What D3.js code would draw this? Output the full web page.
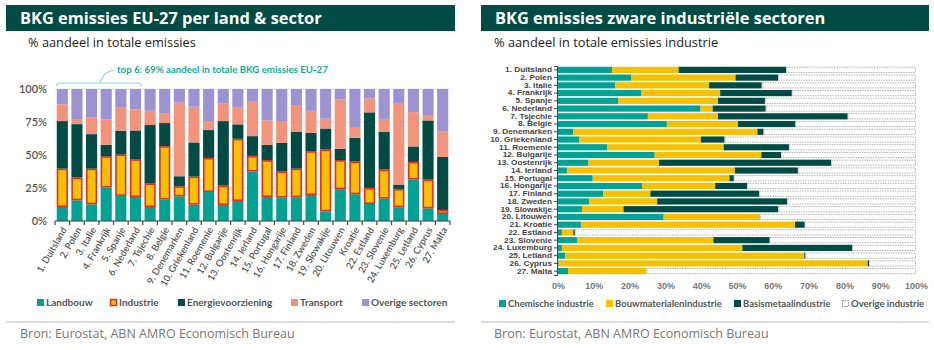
<!DOCTYPE html>
<html>
<head>
<meta charset="utf-8">
<script src="https://cdn.jsdelivr.net/npm/d3@7"></script>
<style>
  body { margin: 0; background: #fff; }
  svg { display: block; font-family: "Lato", "Open Sans", sans-serif; }
</style>
</head>
<body>
<div id="chart"></div>
<script>
// data links: aandeel per sector (%)
var landen = ["1. Duitsland", "2. Polen", "3. Italie", "4. Frankrijk", "5. Spanje", "6. Nederland", "7. Tsjechie", "8. Belgie", "9. Denemarken", "10. Griekenland", "11. Roemenie", "12. Bulgarije", "13. Oostenrijk", "14. Ierland", "15. Portugal", "16. Hongarije", "17. Finland", "18. Zweden", "19. Slowakije", "20. Litouwen", "Kroatie", "22. Estland", "23. Slovenie", "24. Luxemburg", "25. Letland", "26. Cyprus", "27. Malta"];
var landbouw = [10.6, 15.7, 12.7, 25.3, 19.0, 18.2, 10.6, 16.2, 18.7, 12.4, 22.0, 12.2, 15.2, 37.5, 18.2, 17.7, 18.0, 19.7, 7.3, 24.1, 20.3, 12.9, 17.0, 10.4, 31.4, 9.6, 5.3];
var industrie = [29.1, 17.2, 27.0, 23.8, 31.4, 28.6, 17.8, 40.5, 7.6, 21.3, 25.8, 14.6, 47.1, 11.9, 27.9, 19.8, 21.7, 33.2, 46.9, 22.0, 24.8, 12.2, 22.0, 13.9, 13.4, 21.8, 3.1];
var energie = [36.0, 40.5, 26.1, 8.6, 18.0, 21.8, 44.3, 17.5, 7.6, 25.8, 21.1, 48.9, 10.9, 14.9, 11.6, 21.7, 27.9, 13.9, 15.9, 8.6, 17.9, 57.2, 28.6, 3.3, 11.7, 44.8, 40.2];
var transport = [12.7, 3.8, 12.9, 19.3, 17.9, 16.0, 10.8, 7.6, 55.7, 27.1, 6.8, 13.2, 12.6, 26.6, 18.5, 16.5, 19.7, 16.7, 7.4, 37.5, 7.6, 10.6, 9.1, 61.8, 26.0, 4.1, 19.5];
var overig = [11.6, 22.8, 21.3, 23.0, 13.7, 15.4, 16.5, 18.2, 10.4, 13.4, 24.3, 11.1, 14.2, 9.1, 23.8, 24.3, 12.7, 16.5, 22.5, 7.8, 29.4, 7.1, 23.3, 10.6, 17.5, 19.7, 31.9];

// data rechts: aandeel per industriële sector (%)
var landenInd = ["1. Duitsland", "2. Polen", "3. Italie", "4. Frankrijk", "5. Spanje", "6. Nederland", "7. Tsjechie", "8. Belgie", "9. Denemarken", "10. Griekenland", "11. Roemenie", "12. Bulgarije", "13. Oostenrijk", "14. Ierland", "15. Portugal", "16. Hongarije", "17. Finland", "18. Zweden", "19. Slowakije", "20. Litouwen", "21. Kroatie", "22. Estland", "23. Slovenie", "24. Luxemburg", "25. Letland", "26. Cyprus", "27. Malta"];
var chemie = [15.1, 20.4, 16.0, 23.3, 16.9, 39.8, 25.1, 30.4, 4.2, 6.0, 13.8, 27.0, 8.5, 2.5, 9.7, 23.5, 12.6, 8.7, 6.7, 29.5, 6.4, 1.1, 5.3, 1.1, 2.0, 0.2, 2.8];
var bouw = [18.6, 29.2, 26.2, 22.0, 27.8, 3.4, 19.6, 19.9, 51.5, 33.9, 32.5, 29.8, 19.7, 46.9, 38.2, 20.4, 13.2, 19.0, 11.6, 26.9, 59.8, 3.2, 38.1, 50.4, 66.8, 86.3, 21.9];
var basis = [30.0, 11.9, 14.7, 20.0, 13.1, 14.8, 36.2, 16.0, 1.7, 6.6, 18.2, 5.5, 48.1, 17.6, 1.2, 8.9, 30.4, 36.3, 43.2, 0, 2.7, 0.4, 15.7, 30.7, 0.3, 0.4, 0];
var overigInd = [36.3, 38.5, 43.1, 34.7, 42.2, 42.0, 19.1, 33.7, 42.6, 53.5, 35.5, 37.7, 23.7, 33.0, 50.9, 47.2, 43.8, 36.0, 38.5, 43.6, 31.1, 95.3, 40.9, 17.8, 30.9, 13.1, 75.3];

var yTicks = [0, 25, 50, 75, 100];
var xTicksInd = [0, 10, 20, 30, 40, 50, 60, 70, 80, 90, 100];

var w = 934, h = 350;
var svg = d3.select("#chart").append("svg").attr("width", w).attr("height", h);

var kleuren = {
  landbouw: "#00a393", industrie: "#f5c100", energie: "#004c45",
  transport: "#f2937c", overig: "#9d93d2", rood: "#ec2a24"
};

// kop + subtitel
function header(x0, x1, titel, sub, subX) {
  svg.append("rect").attr("x", x0).attr("y", 5).attr("width", x1 - x0).attr("height", 26).attr("fill", "#004c45");
  svg.append("text").attr("x", x0 + 14).attr("y", 24).attr("fill", "#fff")
    .attr("font-family", "Open Sans, sans-serif")
    .attr("font-size", 16.4).attr("font-weight", 700).text(titel);
  svg.append("text").attr("x", subX).attr("y", 47).attr("fill", "#222")
    .attr("font-family", "Open Sans, sans-serif")
    .attr("font-size", 12.8).text(sub);
}
header(6, 455, "BKG emissies EU-27 per land & sector", "% aandeel in totale emissies", 28);
header(481, 929, "BKG emissies zware industriële sectoren", "% aandeel in totale emissies industrie", 494);

// ---------- links ----------
var xScale = d3.scaleBand().domain(landen).range([55, 450]).paddingInner(0.24).paddingOuter(0.12);
var yScale = d3.scaleLinear().domain([0, 100]).range([221, 89]);

var gGrid = svg.append("g");
yTicks.forEach(function (t) {
  gGrid.append("line").attr("x1", 55).attr("x2", 452).attr("y1", yScale(t)).attr("y2", yScale(t))
    .attr("stroke", "#e6e6e6").attr("stroke-width", 1);
});

var series = [
  { key: "landbouw", vals: landbouw },
  { key: "industrie", vals: industrie },
  { key: "energie", vals: energie },
  { key: "transport", vals: transport },
  { key: "overig", vals: overig }
];
var rows = landen.map(function (l, i) {
  var r = { land: l };
  series.forEach(function (s) { r[s.key] = s.vals[i]; });
  return r;
});
var stack = d3.stack().keys(series.map(function (s) { return s.key; }))(rows);

stack.forEach(function (laag) {
  var isInd = laag.key === "industrie";
  svg.append("g").selectAll("rect")
    .data(laag)
    .enter()
    .append("rect")
    .attr("x", function (d) { return xScale(d.data.land) + (isInd ? 0.75 : 0); })
    .attr("width", xScale.bandwidth() - (isInd ? 1.5 : 0))
    .attr("y", function (d) { return yScale(d[1]) + (isInd ? 0.75 : 0); })
    .attr("height", function (d) { return Math.max(0, yScale(d[0]) - yScale(d[1]) - (isInd ? 1.5 : 0)); })
    .attr("fill", kleuren[laag.key])
    .attr("stroke", isInd ? kleuren.rood : "none")
    .attr("stroke-width", isInd ? 1.6 : 0);
});

var yAxis = d3.axisLeft(yScale).tickValues(yTicks).tickSize(0).tickPadding(8)
  .tickFormat(function (d) { return d + "%"; });
var gy = svg.append("g").attr("transform", "translate(55,0)").call(yAxis);
gy.select(".domain").remove();
gy.selectAll("text").attr("font-size", 11).attr("fill", "#555").attr("font-weight", 600)
  .attr("font-family", "Lato, sans-serif");

// x-as met streepjes tussen de staven
var gx = svg.append("g").attr("transform", "translate(0,221)");
gx.append("line").attr("x1", 55).attr("x2", 450).attr("stroke", "#444").attr("stroke-width", 1.2);
var step = xScale.step();
gx.selectAll("line.tk").data(d3.range(landen.length + 1)).enter().append("line").attr("class", "tk")
  .attr("x1", function (i) { return 55 + i * step; }).attr("x2", function (i) { return 55 + i * step; })
  .attr("y1", 0).attr("y2", 4).attr("stroke", "#444").attr("stroke-width", 1.2);
gx.selectAll("text").data(landen).enter().append("text")
  .attr("transform", function (d) { return "translate(" + (xScale(d) + xScale.bandwidth() / 2 + 2) + ",7) rotate(-60)"; })
  .attr("text-anchor", "end").attr("dy", "0.35em")
  .attr("font-size", 9.5).attr("font-weight", 600).attr("fill", "#555").text(function (d) { return d; });

// annotatie top 6
var bx0 = xScale(landen[0]), bx1 = xScale(landen[5]) + xScale.bandwidth();
var by = 83;
svg.append("path")
  .attr("d", "M" + bx0 + "," + (by + 3) + " Q" + bx0 + "," + by + " " + (bx0 + 3) + "," + by +
    " L" + (bx1 - 3) + "," + by + " Q" + bx1 + "," + by + " " + bx1 + "," + (by + 3))
  .attr("fill", "none").attr("stroke", "#8fd8cf").attr("stroke-width", 1.2);
svg.append("path")
  .attr("d", "M100," + by + " Q103,72 114,70")
  .attr("fill", "none").attr("stroke", "#8fd8cf").attr("stroke-width", 1.2);
svg.append("text").attr("x", 117).attr("y", 73).attr("fill", "#14ad9c").attr("font-size", 9.7)
  .attr("font-weight", 700).text("top 6: 69% aandeel in totale BKG emissies EU-27");

// legenda links
var legL = [
  { naam: "Landbouw", kleur: kleuren.landbouw, x: 37 },
  { naam: "Industrie", kleur: kleuren.industrie, x: 110, rand: kleuren.rood },
  { naam: "Energievoorziening", kleur: kleuren.energie, x: 178 },
  { naam: "Transport", kleur: kleuren.transport, x: 291 },
  { naam: "Overige sectoren", kleur: kleuren.overig, x: 362 }
];
legL.forEach(function (l) {
  svg.append("rect").attr("x", l.x + (l.rand ? 0.5 : 0)).attr("y", 299 + (l.rand ? 0.5 : 0))
    .attr("width", l.rand ? 6 : 7).attr("height", l.rand ? 6 : 7)
    .attr("fill", l.kleur).attr("stroke", l.rand || "none").attr("stroke-width", l.rand ? 1.5 : 0);
  svg.append("text").attr("x", l.x + 9).attr("y", 306).attr("font-size", 10).attr("font-weight", 700)
    .attr("fill", "#555").text(l.naam);
});

// ---------- rechts ----------
var yInd = d3.scaleBand().domain(landenInd).range([66, 275]).paddingInner(0.2).paddingOuter(0.1);
var xInd = d3.scaleLinear().domain([0, 100]).range([558, 916]);

var seriesInd = [
  { key: "chemie", vals: chemie, kleur: kleuren.landbouw },
  { key: "bouw", vals: bouw, kleur: kleuren.industrie },
  { key: "basis", vals: basis, kleur: kleuren.energie },
  { key: "overig", vals: overigInd, kleur: "#fff" }
];
var rowsInd = landenInd.map(function (l, i) {
  var r = { land: l };
  seriesInd.forEach(function (s) { r[s.key] = s.vals[i]; });
  return r;
});
var stackInd = d3.stack().keys(seriesInd.map(function (s) { return s.key; }))(rowsInd);

stackInd.forEach(function (laag, k) {
  var dash = laag.key === "overig";
  svg.append("g").selectAll("rect")
    .data(laag)
    .enter()
    .append("rect")
    .attr("x", function (d) { return xInd(d[0]) + (dash ? 0.5 : 0); })
    .attr("y", function (d) { return yInd(d.data.land) + (dash ? 0.5 : 0); })
    .attr("width", function (d) { return Math.max(0, xInd(d[1]) - xInd(d[0]) - (dash ? 1 : 0)); })
    .attr("height", yInd.bandwidth() - (dash ? 1 : 0))
    .attr("fill", seriesInd[k].kleur)
    .attr("stroke", dash ? "#a0a0a0" : "none")
    .attr("stroke-width", dash ? 0.8 : 0)
    .attr("stroke-dasharray", dash ? "1.5,1" : null);
});

// y-as rechts: lijn en streepjes via d3, labels apart (smal lettertype, iets uitgerekt)
var yAxisInd = d3.axisLeft(yInd).tickSize(3).tickSizeOuter(3).tickFormat("");
var gyi = svg.append("g").attr("transform", "translate(557,0)").call(yAxisInd);
gyi.select(".domain").attr("stroke", "#444");
gyi.selectAll(".tick line").attr("stroke", "#444");
svg.append("g").selectAll("text")
  .data(landenInd)
  .enter()
  .append("text")
  .attr("transform", function (d) { return "translate(552," + (yInd(d) + yInd.bandwidth() / 2 + 2.4) + ") scale(1.22,1)"; })
  .attr("text-anchor", "end")
  .attr("font-family", "Liberation Sans, sans-serif")
  .attr("font-size", 6.8).attr("font-weight", 700).attr("fill", "#444")
  .text(function (d) { return d; });

var xAxisInd = d3.axisBottom(xInd).tickValues(xTicksInd).tickSize(0).tickPadding(0)
  .tickFormat(function (d) { return d + "%"; });
var gxi = svg.append("g").attr("transform", "translate(0,283)").call(xAxisInd);
gxi.select(".domain").remove();
gxi.selectAll("text").attr("font-size", 9).attr("font-weight", 600).attr("fill", "#777");

// legenda rechts
var legR = [
  { naam: "Chemische industrie", kleur: kleuren.landbouw, x: 499 },
  { naam: "Bouwmaterialenindustrie", kleur: kleuren.industrie, x: 606 },
  { naam: "Basismetaalindustrie", kleur: kleuren.energie, x: 734 },
  { naam: "Overige industrie", kleur: "#fff", x: 842, dash: true }
];
legR.forEach(function (l) {
  svg.append("rect").attr("x", l.x + (l.dash ? 0.5 : 0)).attr("y", 300 + (l.dash ? 0.5 : 0))
    .attr("width", l.dash ? 6 : 7).attr("height", l.dash ? 6 : 7).attr("fill", l.kleur)
    .attr("stroke", l.dash ? "#888" : "none").attr("stroke-dasharray", l.dash ? "1.5,1" : null);
  svg.append("text").attr("x", l.x + 9).attr("y", 307).attr("font-size", 9.5).attr("font-weight", 700)
    .attr("fill", "#555").text(l.naam);
});

// bron
[[6, 455, 20], [481, 929, 494]].forEach(function (p) {
  svg.append("line").attr("x1", p[0]).attr("x2", p[1]).attr("y1", 322).attr("y2", 322)
    .attr("stroke", "#bbb").attr("stroke-width", 1);
  svg.append("text").attr("x", p[2]).attr("y", 338).attr("font-size", 12.5).attr("fill", "#777")
    .attr("font-family", "Open Sans, sans-serif")
    .text("Bron: Eurostat, ABN AMRO Economisch Bureau");
});
</script>
</body>
</html>
